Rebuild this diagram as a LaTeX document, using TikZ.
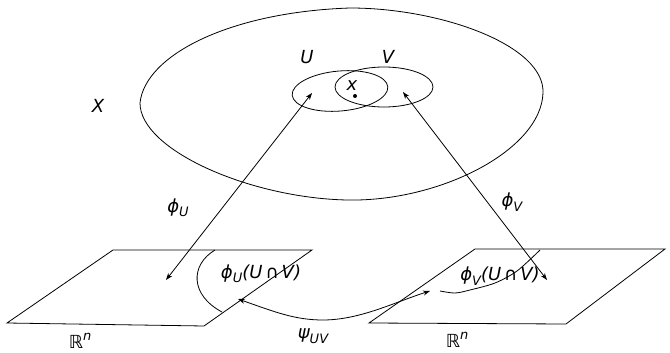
\documentclass[tikz,border=0pt]{standalone}
\usepackage{fontspec}
\setmainfont{DejaVu Sans}
\usepackage{tikz}
\usetikzlibrary{arrows.meta}

\newcommand{\sub}[1]{\raisebox{-0.45ex}{\fontsize{13}{14}\selectfont #1}}
\newcommand{\sups}[1]{\raisebox{0.85ex}{\fontsize{13}{14}\selectfont #1}}

\begin{document}
\begin{tikzpicture}[x=1pt,y=-1pt,line width=0.8pt,>={Stealth[length=7pt,width=5pt]},
  every node/.style={font=\fontsize{18}{20}\selectfont\itshape}]
  \useasboundingbox (0,0) rectangle (670,353);
  % the space X and the two charts
  \draw (140,103) .. controls (145,55) and (230,12) .. (350,8)
    .. controls (440,8) and (545,45) .. (543,93)
    .. controls (541,150) and (440,202) .. (347,200)
    .. controls (250,198) and (140,150) .. cycle;
  \draw[rotate around={5:(340,91)}] (340,91) ellipse [x radius=48pt, y radius=20pt];
  \draw (384,87) ellipse [x radius=49pt, y radius=20pt];
  \fill (355,96) circle (2pt);
  \node (X) at (98,106) {X};
  \node (U) at (307,57) {U};
  \node (V) at (388,57) {V};
  \node (x) at (352,86) {x};
  % the two planes
  \draw (113,250) -- (312,250) -- (204,326) -- (7,323) -- cycle;
  \draw (475,249) -- (665,249) -- (566,324) -- (369,323) -- cycle;
  \draw (215,250) .. controls (190,265) and (190,295) .. (222,312);
  \draw plot[smooth] coordinates {(540,250) (517,271) (495,283) (470,290) (455,293) (440,291)};
  \node (RL) at (80,341) {\upshape ℝ\sups{\itshape n}};
  \node (RR) at (457,340) {\upshape ℝ\sups{\itshape n}};
  \node (imU) at (261,274) {ϕ\sub{U}(U\,\upshape∩\,\itshape V)};
  \node (imV) at (500,276) {ϕ\sub{V}(U\,\upshape∩\,\itshape V)};
  % maps
  \coordinate (pU) at (312,93);
  \coordinate (qU) at (166,280);
  \coordinate (pV) at (403,92);
  \coordinate (qV) at (547,280);
  \coordinate (sL) at (238,299);
  \coordinate (sR) at (430,291);
  \draw[<->] (qU) -- (pU);
  \draw[<->] (qV) -- (pV);
  \draw[<->] (sL) .. controls (275,312) and (295,320) .. (323,320) .. controls (360,320) and (395,302) .. (sR);
  \node (phiU) at (178,208) {ϕ\sub{U}};
  \node (phiV) at (512,202) {ϕ\sub{V}};
  \node (psi) at (313,336) {ψ\sub{UV}};
\end{tikzpicture}
\end{document}
